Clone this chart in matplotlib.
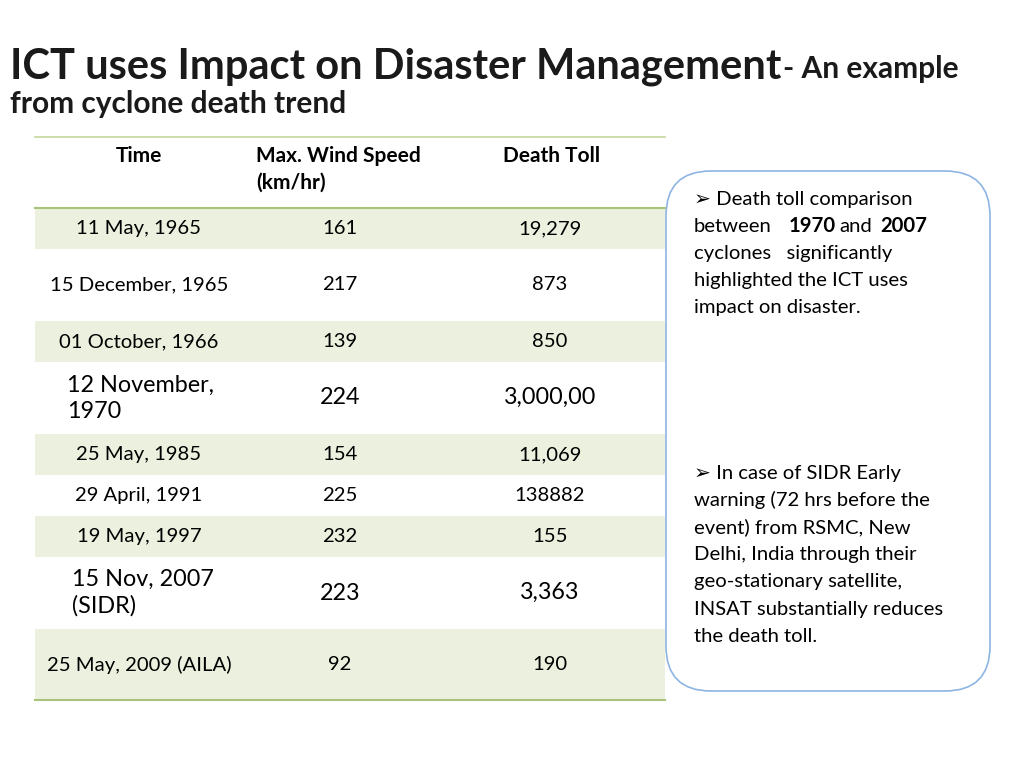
import matplotlib.pyplot as plt
from matplotlib.patches import Rectangle, FancyBboxPatch

plt.rcParams['font.family'] = ['Lato', 'DejaVu Sans']

# table data
times = ['11 May, 1965', '15 December, 1965', '01 October, 1966', '12 November,\n1970',
         '25 May, 1985', '29 April, 1991', '19 May, 1997', '15 Nov, 2007\n(SIDR)',
         '25 May, 2009 (AILA)']
wind_speed = ['161', '217', '139', '224', '154', '225', '232', '223', '92']
death_toll = ['19,279', '873', '850', '3,000,00', '11,069', '138882', '155', '3,363', '190']
headers = ['Time', 'Max. Wind Speed\n(km/hr)', 'Death Toll']

# layout (pixels)
row_heights = [41, 72, 41, 72, 41, 41, 41, 72, 71]
big_rows = [3, 7]
table_left, table_right = 35, 665
header_top, header_bottom = 137, 208
col_x = [139, 340, 550]

fig = plt.figure(figsize=(10.24, 7.68), dpi=100)
ax = fig.add_axes([0, 0, 1, 1])
ax.set_xlim(0, 1024)
ax.set_ylim(768, 0)
ax.axis('off')

# title
t1 = ax.text(10, 78, 'ICT uses Impact on Disaster Management', fontsize=30,
             fontweight='bold', color='#1a1a1a', va='baseline', ha='left')
fig.canvas.draw()
bb = t1.get_window_extent().transformed(ax.transData.inverted())
ax.text(bb.x1 + 2, 78, '- An example', fontsize=21.5, fontweight='bold',
        color='#1a1a1a', va='baseline', ha='left')
ax.text(10, 104, 'from cyclone death trend', fontsize=21.5, fontweight='bold',
        color='#1a1a1a', va='center', ha='left')

# header
ax.plot([table_left, table_right], [header_top, header_top], color='#c4d79b', lw=1.2)
ax.plot([table_left, table_right], [header_bottom, header_bottom], color='#a9c47a', lw=1.5)
ax.text(col_x[0], 156, headers[0], fontsize=15, fontweight='bold', ha='center', va='center')
ax.text(256, 169.5, headers[1], fontsize=15, fontweight='bold', ha='left', va='center',
        linespacing=1.4)
ax.text(503, 156, headers[2], fontsize=15, fontweight='bold', ha='left', va='center')

# rows
y = header_bottom
for i, h in enumerate(row_heights):
    if i % 2 == 0:
        ax.add_patch(Rectangle((table_left, y), table_right - table_left, h,
                               facecolor='#ebf1de', edgecolor='none'))
    yc = y + h / 2
    if i in big_rows:
        ax.text(col_x[0] - 72 + (5 if i == 7 else 0), yc, times[i], fontsize=16.8,
                ha='left', va='center', linespacing=1.3)
        ax.text(col_x[1], yc, wind_speed[i], fontsize=16.8, ha='center', va='center')
        ax.text(col_x[2], yc - 1, death_toll[i], fontsize=16.8, ha='center', va='center')
    else:
        ax.text(col_x[0], yc, times[i], fontsize=14.6, ha='center', va='center')
        ax.text(col_x[1], yc, wind_speed[i], fontsize=14.6, ha='center', va='center')
        ax.text(col_x[2], yc, death_toll[i], fontsize=14.6, ha='center', va='center')
    y += h
ax.plot([table_left, table_right], [y, y], color='#a9c47a', lw=1.5)

# callout box
box = FancyBboxPatch((676, 181), 304, 500, boxstyle='round,pad=10,rounding_size=45',
                     facecolor='white', edgecolor='#8eb4e3', lw=1.2)
ax.add_patch(box)

fs = 14.6
ax.text(694, 200, '\u27a2 Death toll comparison', fontsize=fs, va='center')
ax.text(694, 226, 'between', fontsize=fs, va='center')
ax.text(789, 226, '1970', fontsize=fs, fontweight='bold', va='center')
ax.text(839, 226, 'and', fontsize=fs, va='center')
ax.text(880, 226, '2007', fontsize=fs, fontweight='bold', va='center')
lines1 = ['cyclones   significantly', 'highlighted the ICT uses', 'impact on disaster.']
for k, s in enumerate(lines1):
    ax.text(694, 253 + 27.5 * k, s, fontsize=fs, va='center')

lines2 = ['\u27a2 In case of SIDR Early', 'warning (72 hrs before the',
          'event) from RSMC, New', 'Delhi, India through their',
          'geo-stationary satellite,', 'INSAT substantially reduces', 'the death toll.']
for k, s in enumerate(lines2):
    ax.text(694, 473 + 27.2 * k, s, fontsize=fs, va='center')

fig.savefig('out.png', dpi=100)
